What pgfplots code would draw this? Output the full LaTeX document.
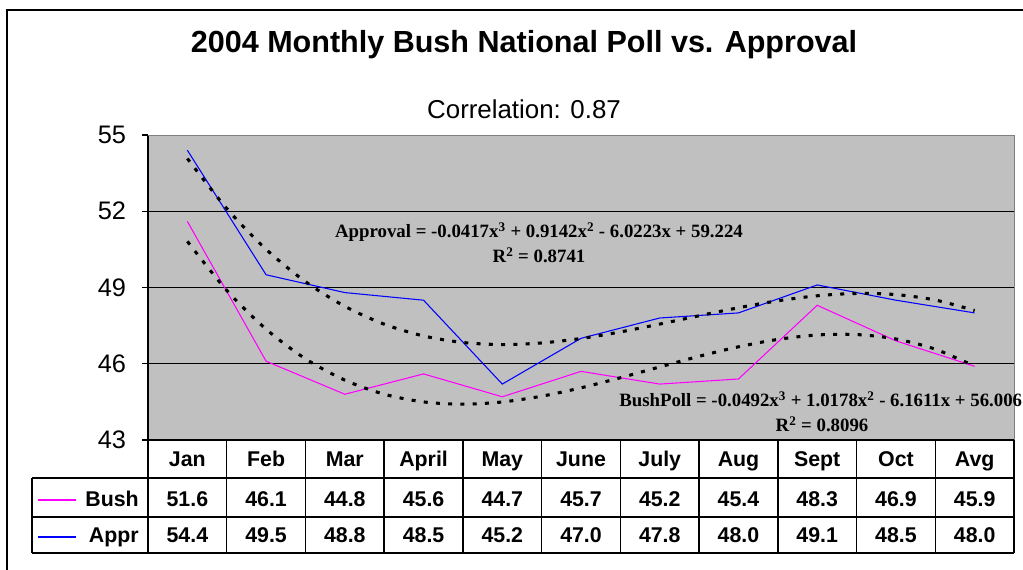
\documentclass[border=0pt]{standalone}
\usepackage{pgfplots}
\pgfplotsset{compat=1.18}
\usepackage{fontspec}
\setmainfont{Liberation Sans}
\newfontfamily\eqfont{Liberation Serif}
\definecolor{plotgray}{RGB}{192,192,192}
\definecolor{bushc}{RGB}{255,0,255}
\definecolor{apprc}{RGB}{0,0,255}
\begin{document}
\begin{tikzpicture}[x=0.75pt,y=0.75pt]
\useasboundingbox (0,0) rectangle (1023,570);
% chart frame
\draw[line width=1.1pt] (7,-5) -- (7,560) -- (1030,560);
% title
\node[font=\bfseries\fontsize{22.9}{26}\selectfont, anchor=base, inner sep=0pt] at (524,517) {2004 Monthly Bush National Poll vs. Approval};
\node[font=\fontsize{19.4}{22}\selectfont, anchor=base, inner sep=0pt] at (524,451) {Correlation: 0.87};
\begin{axis}[
  at={(111pt,97.5pt)}, anchor=south west,
  scale only axis, width=649.5pt, height=228.75pt,
  xmin=0.5, xmax=11.5, ymin=43, ymax=55,
  axis x line*=bottom, axis y line*=left,
  axis line style={black, line width=0.9pt},
  axis background/.style={fill=plotgray},
  xtick=\empty,
  ytick={43,46,49,52,55},
  tick align=outside, major tick length=4.5pt,
  ytick style={black, line width=0.9pt},
  yticklabel style={font=\fontsize{19}{21}\selectfont, xshift=-8.5pt},
  /pgf/number format/assume math mode=true,
  clip=false,
]
\draw[black, line width=0.9pt] (axis cs:0.5,46) -- (axis cs:11.5,46);
\draw[black, line width=0.9pt] (axis cs:0.5,49) -- (axis cs:11.5,49);
\draw[black, line width=0.9pt] (axis cs:0.5,52) -- (axis cs:11.5,52);
\draw[gray, line width=0.6pt] (axis cs:0.5,55) -- (axis cs:11.5,55) -- (axis cs:11.5,43);
% data
\addplot[bushc, line width=0.8pt, mark=none] coordinates {
(1,51.6)(2,46.1)(3,44.8)(4,45.6)(5,44.7)(6,45.7)(7,45.2)(8,45.4)(9,48.3)(10,46.9)(11,45.9)};
\addplot[apprc, line width=0.8pt, mark=none] coordinates {
(1,54.4)(2,49.5)(3,48.8)(4,48.5)(5,45.2)(6,47.0)(7,47.8)(8,48.0)(9,49.1)(10,48.5)(11,48.0)};
% polynomial trendlines (values of the fitted cubics)
\addplot[black, line width=2.3pt, dash pattern=on 3pt off 6.2pt, smooth, mark=none] coordinates {
(1,54.074)(1.5,52.107)(2,50.503)(2.5,49.230)(3,48.259)(3.5,47.557)(4,47.093)(4.5,46.836)(5,46.755)(5.5,46.818)(6,46.994)(6.5,47.252)(7,47.561)(7.5,47.888)(8,48.204)(8.5,48.476)(9,48.674)(9.5,48.766)(10,48.721)(10.5,48.507)(11,48.094)};
\addplot[black, line width=2.3pt, dash pattern=on 3pt off 6.2pt, smooth, mark=none] coordinates {
(1,50.814)(1.5,48.888)(2,47.361)(2.5,46.196)(3,45.355)(3.5,44.801)(4,44.498)(4.5,44.408)(5,44.496)(5.5,44.723)(6,45.053)(6.5,45.449)(7,45.875)(7.5,46.293)(8,46.666)(8.5,46.958)(9,47.131)(9.5,47.149)(10,46.975)(10.5,46.572)(11,45.903)};
\end{axis}
% trendline equations
\tikzset{eq/.style={font=\eqfont\bfseries\fontsize{14.1}{16}\selectfont, inner sep=0pt}}
\node[eq, anchor=base] at (539,332) {Approval = -0.0417x\textsuperscript{3} + 0.9142x\textsuperscript{2} - 6.0223x + 59.224};
\node[eq, anchor=base] at (539,307) {R\textsuperscript{2} = 0.8741};
\node[eq, anchor=base west] at (619,163) {BushPoll = -0.0492x\textsuperscript{3} + 1.0178x\textsuperscript{2} - 6.1611x + 56.006};
\node[eq, anchor=base] at (822,138) {R\textsuperscript{2} = 0.8096};
% data table
\begin{scope}[line width=1.1pt]
\foreach \i in {0,...,11} \draw (148+78.73*\i,130) -- (148+78.73*\i,17);
\draw (32,92) -- (1014,92);
\draw (32,53) -- (1014,53);
\draw (32,17) -- (1014,17);
\draw (32,92) -- (32,17);
\end{scope}
\tikzset{tb/.style={font=\bfseries\fontsize{16}{18}\selectfont, inner sep=0pt, anchor=base}}
\foreach \m [count=\i] in {Jan,Feb,Mar,April,May,June,July,Aug,Sept,Oct,Avg}
  \node[tb] at (148+78.73*\i-39.36,103) {\m};
\foreach \v [count=\i] in {51.6,46.1,44.8,45.6,44.7,45.7,45.2,45.4,48.3,46.9,45.9}
  \node[tb] at (148+78.73*\i-39.36,63) {\v};
\foreach \v [count=\i] in {54.4,49.5,48.8,48.5,45.2,47.0,47.8,48.0,49.1,48.5,48.0}
  \node[tb] at (148+78.73*\i-39.36,27) {\v};
\draw[bushc, line width=0.8pt] (38,70) -- (76,70);
\draw[apprc, line width=0.8pt] (38,33) -- (76,33);
\node[tb, anchor=base east] at (139,63) {Bush};
\node[tb, anchor=base east] at (139,27) {Appr};
\end{tikzpicture}
\end{document}
